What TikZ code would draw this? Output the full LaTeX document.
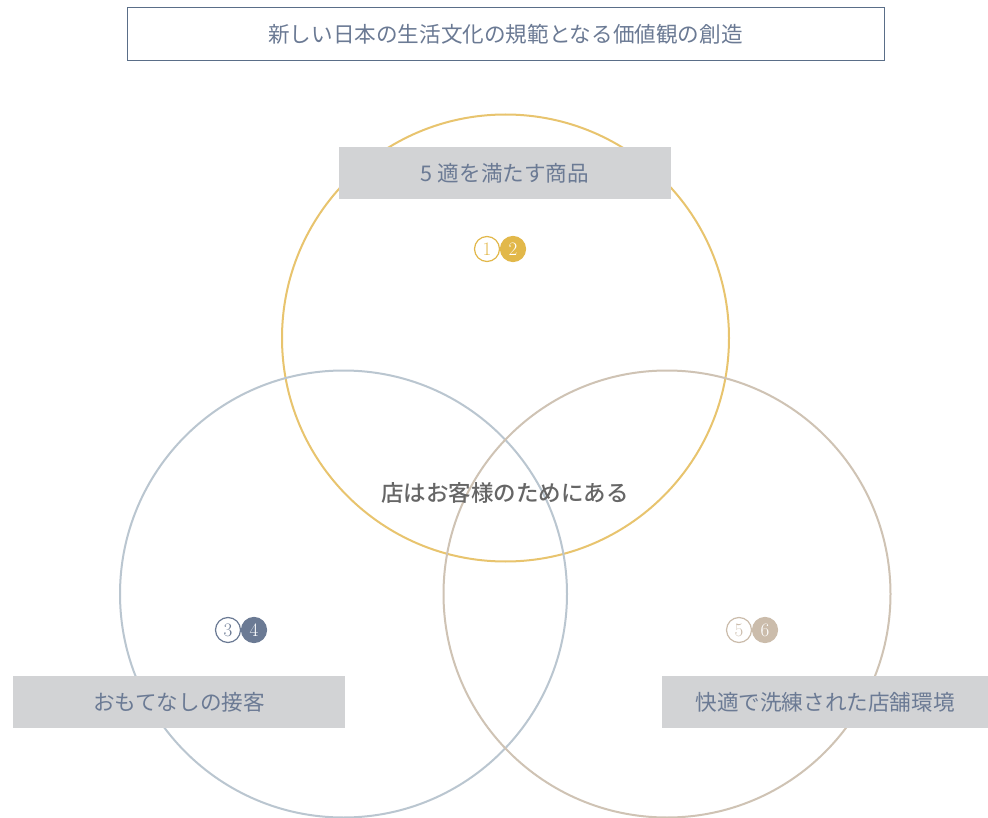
\documentclass[tikz,border=0pt]{standalone}
\usepackage{fontspec}
\newfontfamily\jp{Noto Sans CJK JP}
\newfontfamily\jpb{Noto Sans CJK JP Medium}
\definecolor{titleline}{HTML}{5A6E88}
\definecolor{titletext}{HTML}{6B7A94}
\definecolor{labelbg}{HTML}{D2D3D5}
\definecolor{ycirc}{HTML}{E8C46E}
\definecolor{yfill}{HTML}{E2B84A}
\definecolor{bcirc}{HTML}{BAC6D0}
\definecolor{bfill}{HTML}{6B7A94}
\definecolor{ccirc}{HTML}{CFC3B4}
\definecolor{cfill}{HTML}{CBBCAB}
\definecolor{centertext}{HTML}{666666}
\tikzset{
  venn/.style={draw, line width=2pt, fill=none},
  labelbox/.style={fill=labelbg, minimum width=332pt, minimum height=52pt, inner sep=0pt, text=titletext, font=\jp\fontsize{21.6}{26}\selectfont},
  badgeo/.style={circle, draw=#1, line width=1.2pt, fill=white, minimum size=25pt, inner sep=0pt, text=#1, font=\fontsize{19}{19}\selectfont},
  badgef/.style={circle, draw=#1, line width=1.2pt, fill=#1, minimum size=25pt, inner sep=0pt, text=white, font=\fontsize{19}{19}\selectfont},
}
\begin{document}
\begin{tikzpicture}[x=1pt,y=-1pt]
\useasboundingbox (0,0) rectangle (988,818);
\fill[white] (0,0) rectangle (988,818);
% circles
\draw[venn, draw=ycirc] (505.5,338) circle (223.5pt);
\draw[venn, draw=bcirc] (343.5,594) circle (223.5pt);
\draw[venn, draw=ccirc] (667,594) circle (223.5pt);
% title
\node[draw=titleline, line width=1pt, minimum width=757pt, minimum height=53pt, inner sep=0pt, text=titletext, font=\jp\fontsize{21.6}{26}\selectfont] (title) at (505.5,34.5) {新しい日本の生活文化の規範となる価値観の創造};
% labels
\node[labelbox] (top) at (505,173) {5 適を満たす商品};
\node[labelbox] (left) at (179,702) {おもてなしの接客};
\node[labelbox, minimum width=326pt] (right) at (825,702) {快適で洗練された店舗環境};
% center
\node[text=centertext, font=\jpb\fontsize{22.5}{26}\selectfont] (center) at (505,493) {店はお客様のためにある};
% badges
\node[badgeo=yfill] (b1) at (487,249) {1};
\node[badgef=yfill] (b2) at (513,249) {2};
\node[badgeo=bfill] (b3) at (228,630) {3};
\node[badgef=bfill] (b4) at (254,630) {4};
\node[badgeo=cfill] (b5) at (739,630) {5};
\node[badgef=cfill] (b6) at (765,630) {6};
\end{tikzpicture}
\end{document}
